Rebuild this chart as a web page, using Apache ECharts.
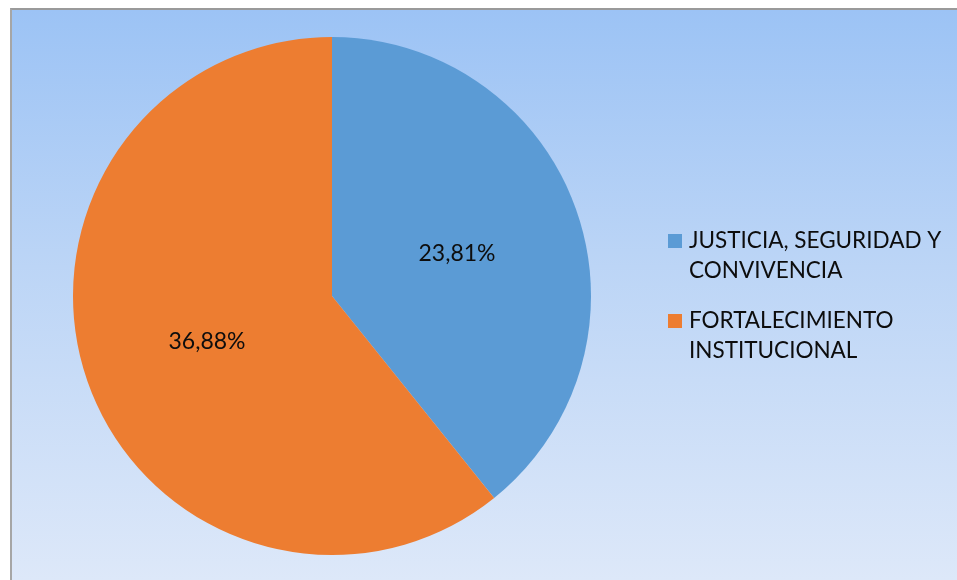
<!DOCTYPE html>
<html>
<head>
<meta charset="utf-8">
<script src="https://cdn.jsdelivr.net/npm/echarts@6/dist/echarts.min.js"></script>
<style>
  html, body { margin: 0; padding: 0; width: 957px; height: 580px; overflow: hidden; background: #fff; }
  #frame {
    position: absolute; left: 10px; top: 8px; width: 947px; height: 572px;
    border-top: 2px solid #9a9a9a; border-left: 2px solid #a6a6a6;
    background: linear-gradient(to bottom, #9cc3f5 0%, #bcd5f6 45%, #dde8f9 100%);
    box-sizing: border-box;
  }
  #chart { position: absolute; left: 0; top: 0; width: 957px; height: 580px; }
</style>
</head>
<body>
<div id="frame"></div>
<div id="chart"></div>
<script>
// Categories and their values (percent shares)
const categories = ['JUSTICIA, SEGURIDAD Y CONVIVENCIA', 'FORTALECIMIENTO INSTITUCIONAL'];
const legendLines = ['JUSTICIA, SEGURIDAD Y\nCONVIVENCIA', 'FORTALECIMIENTO\nINSTITUCIONAL'];
const values = [23.81, 36.88];
const colors = ['#5b9bd5', '#ed7d31'];

const fontFamily = 'Lato, "Open Sans", sans-serif';

// Square marker sitting at the top of a taller box, so it lines up with the first text line
const topSquare = 'path://M0,0H14V14H0Z M0,44H0.01V44.01H0Z';

const chart = echarts.init(document.getElementById('chart'), null, { renderer: 'canvas' });

const data = categories.map((name, i) => ({
  name: name,
  value: values[i],
  itemStyle: { color: colors[i] }
}));

chart.setOption({
  backgroundColor: 'transparent',
  animation: false,
  legend: {
    orient: 'vertical',
    left: 668,
    top: 226,
    padding: 0,
    itemWidth: 14,
    itemHeight: 44,
    itemGap: 20,
    icon: topSquare,
    data: categories,
    formatter: name => legendLines[categories.indexOf(name)],
    textStyle: {
      fontFamily: fontFamily,
      fontSize: 22.5,
      lineHeight: 30,
      color: '#0d0d0d',
      padding: [0, 0, 0, 2]
    }
  },
  series: [{
    type: 'pie',
    center: [332, 296],
    radius: [0, 259],
    startAngle: 90,
    clockwise: true,
    data: data,
    label: {
      show: true,
      position: 'inside',
      formatter: p => p.value.toFixed(2).replace('.', ',') + '%',
      fontFamily: fontFamily,
      fontSize: 23,
      color: '#0d0d0d',
      offset: [0, 2]
    },
    labelLine: { show: false },
    emphasis: { disabled: true },
    itemStyle: { borderWidth: 0 }
  }]
});
</script>
</body>
</html>
